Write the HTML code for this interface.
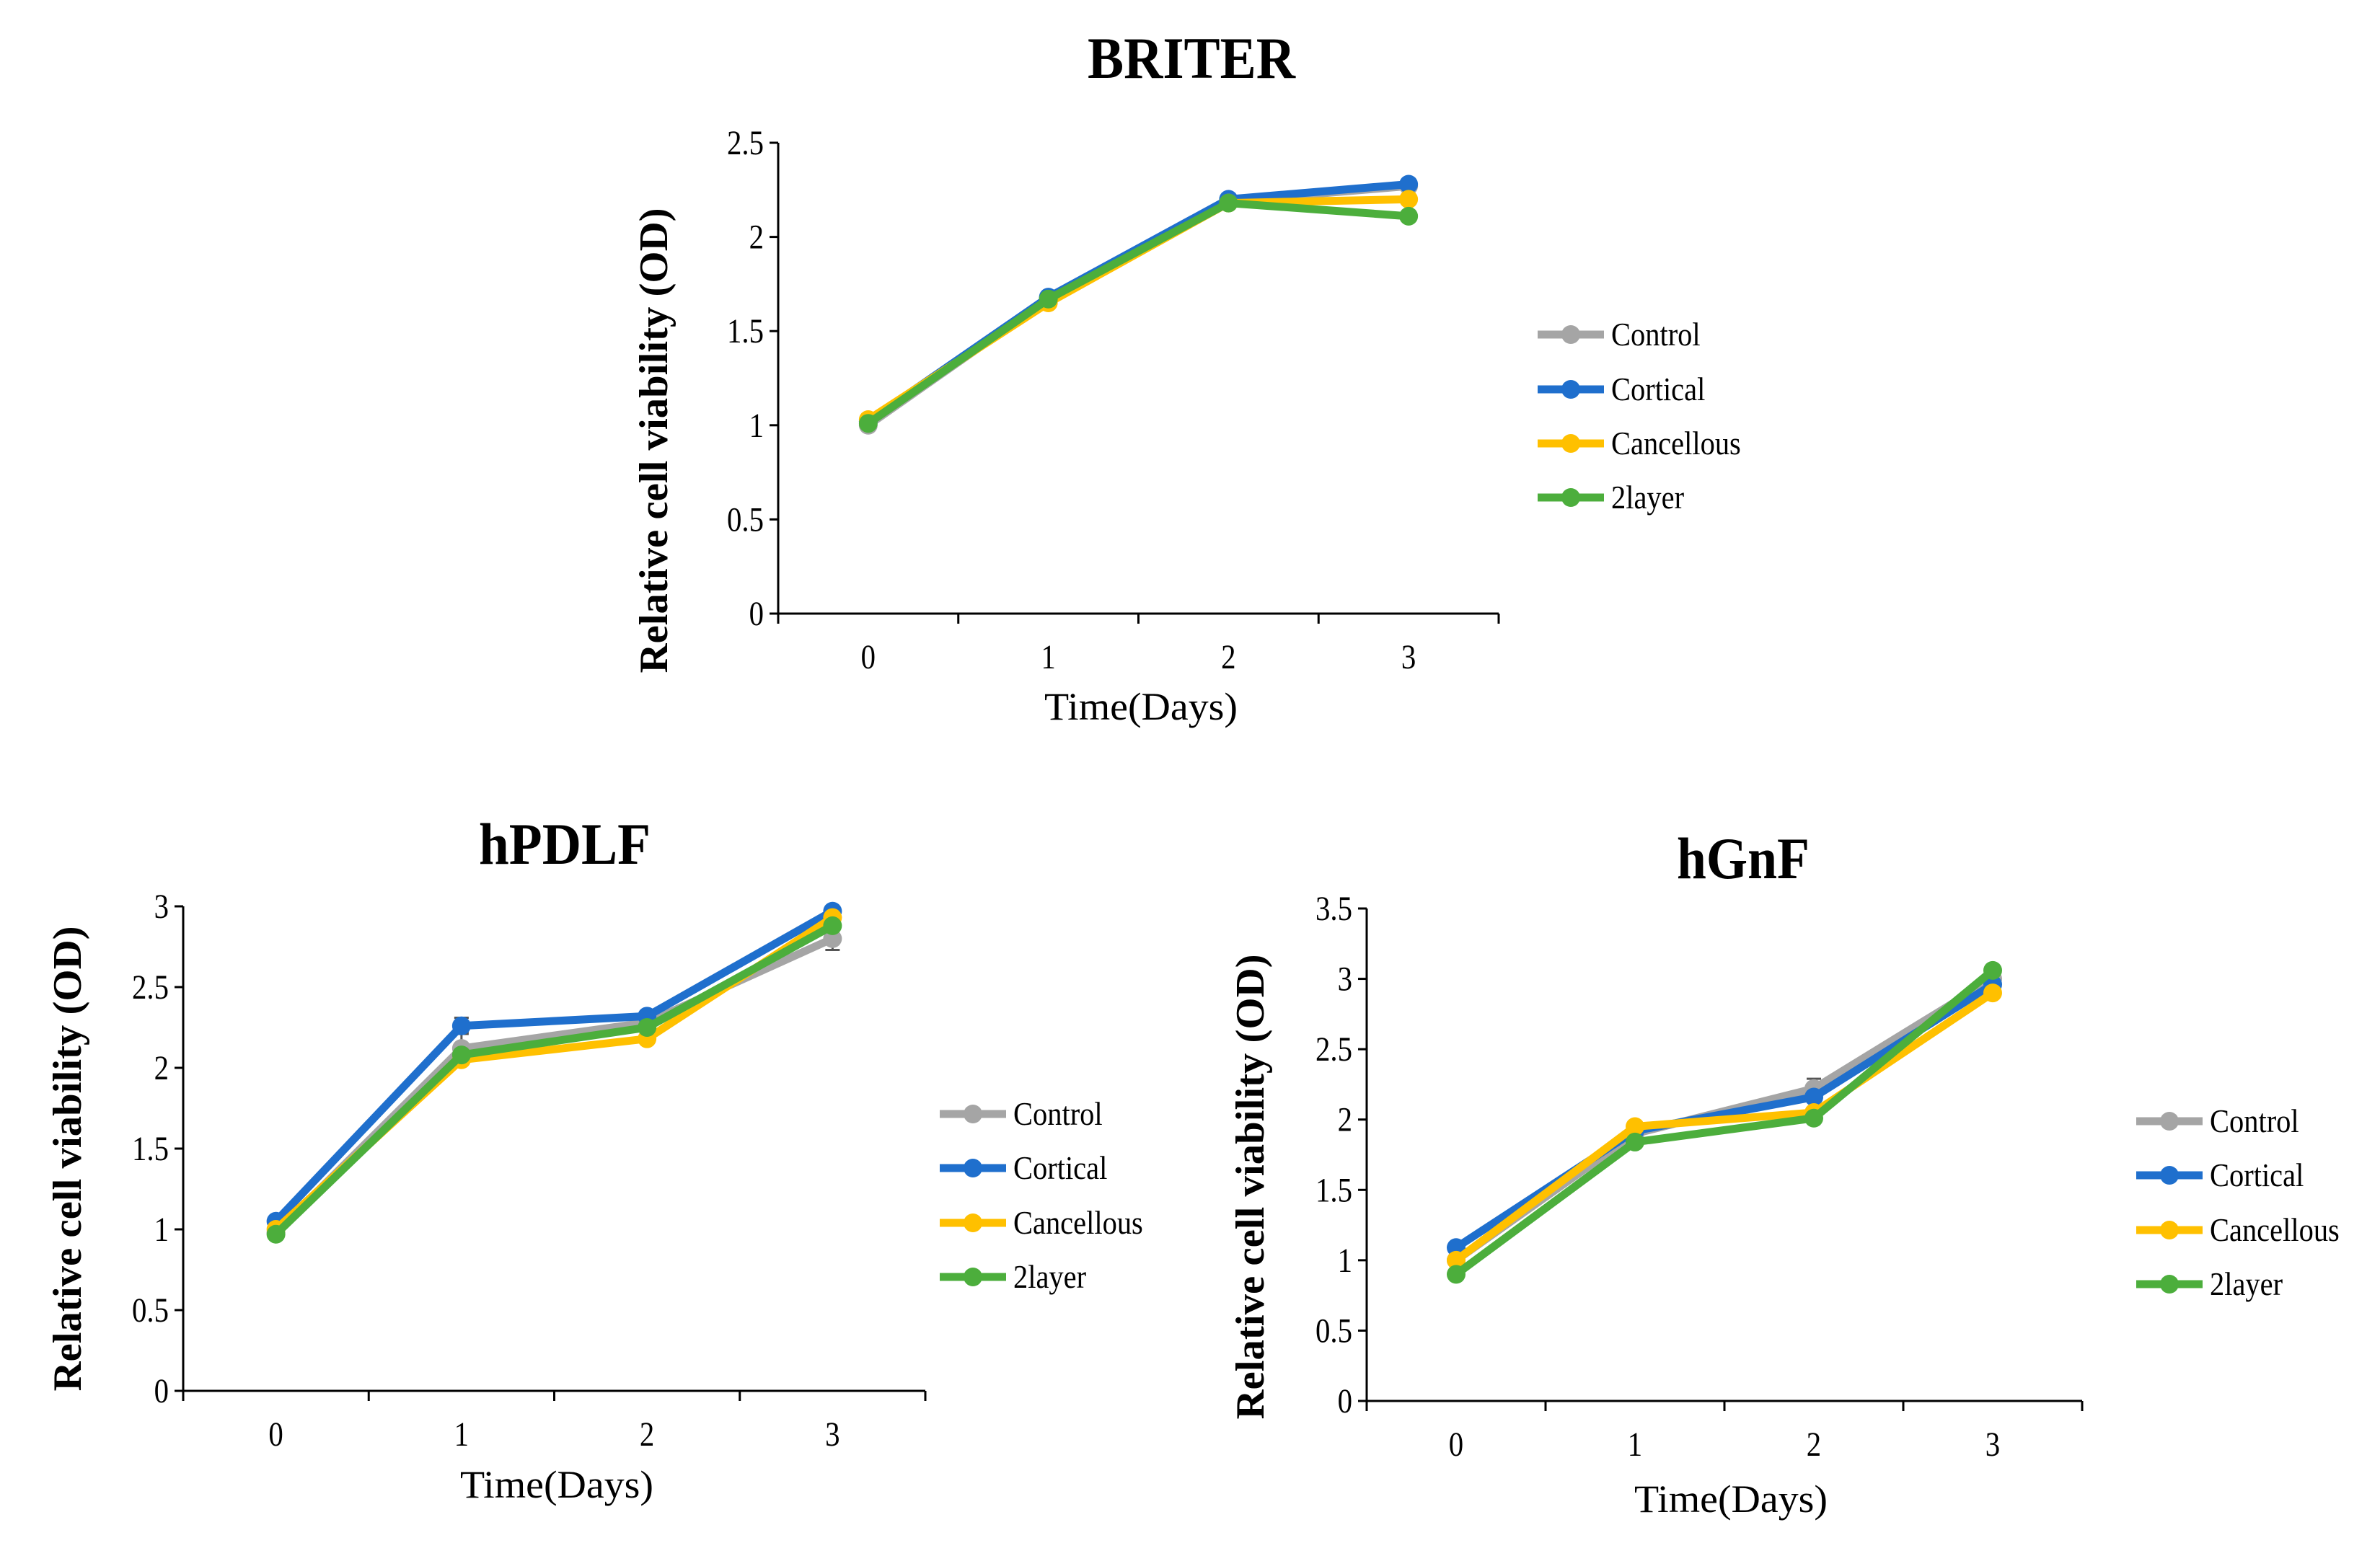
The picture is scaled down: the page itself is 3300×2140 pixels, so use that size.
<!DOCTYPE html>
<html><head><meta charset="utf-8"><style>
html,body{margin:0;padding:0;background:#fff;}
svg{display:block;}
text{font-family:"Liberation Serif",serif;fill:#000;}
</style></head><body>
<svg id="fig" width="3300" height="2140" viewBox="0 0 3300 2140" xmlns="http://www.w3.org/2000/svg"></svg>
<script>
const categories = ["0","1","2","3"];
const seriesNames = ["Control","Cortical","Cancellous","2layer"];
const seriesColors = ["#a5a5a5","#1f6fcd","#ffc000","#4cae3c"];

const briterControl = [1.00,1.67,2.19,2.27];
const briterCortical = [1.02,1.68,2.20,2.28];
const briterCancellous = [1.03,1.65,2.18,2.20];
const briter2layer = [1.01,1.67,2.18,2.11];
const briterTicks = ["0","0.5","1","1.5","2","2.5"];

const pdlfControl = [0.98,2.12,2.28,2.80];
const pdlfCortical = [1.05,2.26,2.32,2.97];
const pdlfCancellous = [1.00,2.05,2.18,2.93];
const pdlf2layer = [0.97,2.08,2.25,2.88];
const pdlfControlErr = [0.02,0.10,0.04,0.07];
const pdlfCorticalErr = [0.02,0.05,0.03,0.03];
const pdlfTicks = ["0","0.5","1","1.5","2","2.5","3"];

const gnfControl = [1.00,1.90,2.22,3.00];
const gnfCortical = [1.09,1.92,2.16,2.96];
const gnfCancellous = [1.00,1.95,2.05,2.90];
const gnf2layer = [0.90,1.84,2.01,3.06];
const gnfControlErr = [0.02,0.05,0.07,0.03];
const gnfTicks = ["0","0.5","1","1.5","2","2.5","3","3.5"];

const NS = "http://www.w3.org/2000/svg";
const svg = document.getElementById("fig");
function mk(tag, attrs, parent, txt){
  const e = document.createElementNS(NS, tag);
  for (const k in attrs) e.setAttribute(k, attrs[k]);
  if (txt !== undefined) e.textContent = txt;
  (parent || svg).appendChild(e);
  return e;
}

function chart(cfg){
  const g = mk("g", {});
  
  
  const ymax = cfg.ymax;
  const yS = v => cfg.y0 - (v / ymax) * (cfg.y0 - cfg.yTop);
  const step = (cfg.xEnd - cfg.x0) / categories.length;
  const xS = i => cfg.x0 + step * (i + 0.5);

  const t = mk("text", {x: cfg.titleX, y: cfg.titleY, "text-anchor": "middle", "font-size": 82, "font-weight": "bold", textLength: cfg.titleLen, lengthAdjust: "spacingAndGlyphs"}, g, cfg.title);
  
  

  const ya = mk("line", {x1: cfg.x0, y1: cfg.yTop, x2: cfg.x0, y2: cfg.y0 + 14, stroke: "#000", "stroke-width": 3}, g);
  
  
  const xa = mk("line", {x1: cfg.x0, y1: cfg.y0, x2: cfg.xEnd, y2: cfg.y0, stroke: "#000", "stroke-width": 3}, g);
  
  

  cfg.ticks.forEach((lab, i) => {
    const v = i * cfg.tickStep;
    const y = yS(v);
    mk("line", {x1: cfg.x0 - 12, y1: y, x2: cfg.x0, y2: y, stroke: "#000", "stroke-width": 3}, g);
    const tl = mk("text", {x: 0, y: 0, "text-anchor": "end", "font-size": 48, transform: `translate(${cfg.x0 - 20},${y + 16}) scale(0.85,1)`}, g, lab);
    
    
  });
  for (let i = 0; i <= categories.length; i++) {
    const x = cfg.x0 + step * i;
    mk("line", {x1: x, y1: cfg.y0, x2: x, y2: cfg.y0 + 14, stroke: "#000", "stroke-width": 3}, g);
  }
  categories.forEach((c, i) => {
    const tl = mk("text", {x: 0, y: 0, "text-anchor": "middle", "font-size": 48, transform: `translate(${xS(i)},${cfg.y0 + 76}) scale(0.85,1)`}, g, c);
    
    
  });

  const xl = mk("text", {x: cfg.xlX, y: cfg.xlY, "text-anchor": "middle", "font-size": 54, textLength: 268, lengthAdjust: "spacingAndGlyphs"}, g, "Time(Days)");
  
  
  const yl = mk("text", {x: 0, y: 0, "text-anchor": "middle", "font-size": 56, "font-weight": "bold", textLength: 645, lengthAdjust: "spacingAndGlyphs", transform: `translate(${cfg.ylX},${cfg.ylY}) rotate(-90)`}, g, "Relative cell viability (OD)");
  
  

  cfg.series.forEach((vals, s) => {
    const sg = mk("g", {}, g);
    
    
    const err = cfg.errs[s];
    if (err) {
      vals.forEach((v, i) => {
        const x = xS(i), y1 = yS(v + err[i]), y2 = yS(v - err[i]);
        mk("path", {d: `M${x},${y1}V${y2}M${x-10},${y1}H${x+10}M${x-10},${y2}H${x+10}`, stroke: "#555", "stroke-width": 3, fill: "none"}, sg);
      });
    }
    const pts = vals.map((v, i) => xS(i) + "," + yS(v)).join(" ");
    const pl = mk("polyline", {points: pts, fill: "none", stroke: seriesColors[s], "stroke-width": 11, "stroke-linejoin": "round"}, sg);
    
    
    vals.forEach((v, i) => {
      const c = mk("circle", {cx: xS(i), cy: yS(v), r: 13, fill: seriesColors[s]}, sg);
      
      
    });
  });

  seriesNames.forEach((n, s) => {
    const lg = mk("g", {}, g);
    
    
    const y = cfg.legY[s];
    mk("line", {x1: cfg.legX, y1: y, x2: cfg.legX + 92, y2: y, stroke: seriesColors[s], "stroke-width": 11}, lg);
    mk("circle", {cx: cfg.legX + 46, cy: y, r: 13, fill: seriesColors[s]}, lg);
    mk("text", {x: 0, y: 0, "font-size": 46, transform: `translate(${cfg.legX + 102},${y + 15}) scale(0.88,1)`}, lg, n);
  });
}

chart({name: "briter", title: "BRITER", titleLen: 288, titleX: 1652, titleY: 108, x0: 1079, xEnd: 2078, y0: 851, yTop: 198, ymax: 2.5, tickStep: 0.5, ticks: briterTicks,
  series: [briterControl, briterCortical, briterCancellous, briter2layer], errs: [null,null,null,null],
  xlX: 1582, xlY: 998, ylX: 925, ylY: 611, legX: 2132, legY: [464,540,615,690]});
chart({name: "hpdlf", title: "hPDLF", titleLen: 238, titleX: 783, titleY: 1198, x0: 254, xEnd: 1283, y0: 1929, yTop: 1257, ymax: 3, tickStep: 0.5, ticks: pdlfTicks,
  series: [pdlfControl, pdlfCortical, pdlfCancellous, pdlf2layer], errs: [pdlfControlErr, pdlfCorticalErr, null, null],
  xlX: 772, xlY: 2077, ylX: 112, ylY: 1607, legX: 1303, legY: [1545,1620,1696,1771]});
chart({name: "hgnf", title: "hGnF", titleLen: 184, titleX: 2417, titleY: 1218, x0: 1895, xEnd: 2887, y0: 1943, yTop: 1260, ymax: 3.5, tickStep: 0.5, ticks: gnfTicks,
  series: [gnfControl, gnfCortical, gnfCancellous, gnf2layer], errs: [gnfControlErr, null, null, null],
  xlX: 2400, xlY: 2097, ylX: 1752, ylY: 1646, legX: 2962, legY: [1555,1630,1706,1781]});
</script>
</body></html>
